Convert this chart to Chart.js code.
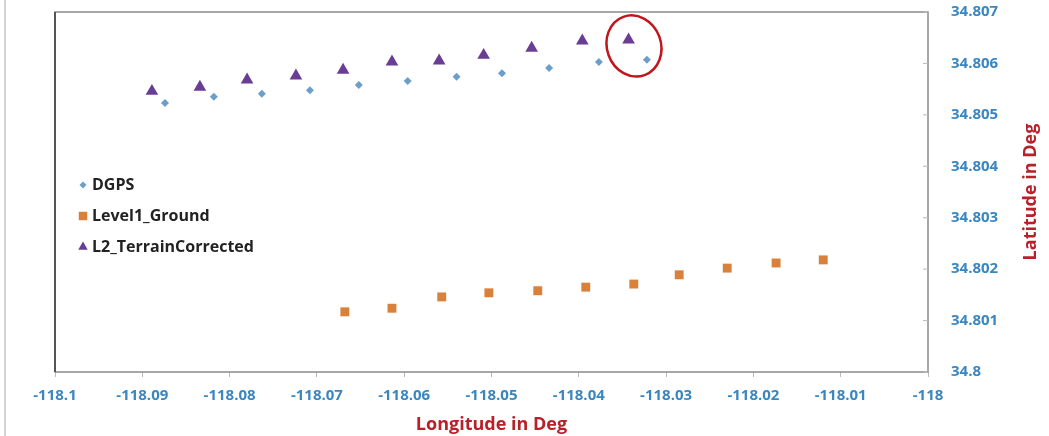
<!DOCTYPE html>
<html>
<head>
<meta charset="utf-8">
<script src="https://cdn.jsdelivr.net/npm/chart.js@4/dist/chart.umd.min.js"></script>
<style>
html, body { margin: 0; padding: 0; background: #fff; }
#wrap { width: 1049px; height: 436px; }
</style>
</head>
<body>
<div id="wrap"><canvas id="geoChart" width="1049" height="436"></canvas></div>
<script>
// values
const dgpsLon = [-118.0874, -118.0818, -118.0763, -118.0708, -118.0652, -118.0596, -118.0540, -118.0488, -118.0434, -118.0377, -118.0322];
const dgpsLat = [34.80523, 34.80535, 34.80541, 34.80548, 34.80558, 34.80566, 34.80574, 34.80581, 34.80591, 34.80603, 34.80607];

const groundLon = [-118.0668, -118.0614, -118.0557, -118.0503, -118.0447, -118.0392, -118.0337, -118.0285, -118.0230, -118.0174, -118.0120];
const groundLat = [34.80117, 34.80124, 34.80146, 34.80154, 34.80158, 34.80165, 34.80171, 34.80189, 34.80202, 34.80212, 34.80218];

const terrainLon = [-118.0889, -118.0834, -118.0780, -118.0724, -118.0670, -118.0614, -118.0560, -118.0509, -118.0454, -118.0396, -118.0343];
const terrainLat = [34.80546, 34.80554, 34.80568, 34.80576, 34.80587, 34.80603, 34.80605, 34.80616, 34.80630, 34.80644, 34.80646];

const xTicks = [-118.1, -118.09, -118.08, -118.07, -118.06, -118.05, -118.04, -118.03, -118.02, -118.01, -118];
const xTickLabels = ['-118.1', '-118.09', '-118.08', '-118.07', '-118.06', '-118.05', '-118.04', '-118.03', '-118.02', '-118.01', '-118'];
const yTicks = [34.8, 34.801, 34.802, 34.803, 34.804, 34.805, 34.806, 34.807];
const yTickLabels = ['34.8', '34.801', '34.802', '34.803', '34.804', '34.805', '34.806', '34.807'];

// the red ring around the last L2 / DGPS pair
const ringLon = -118.03368;
const ringLat = 34.80634;

const tickColor = '#3a87c0';
const titleColor = '#b8202a';
const fontFam = '"Open Sans", "Liberation Sans", sans-serif';

function toPoints(xs, ys) {
    return xs.map((x, i) => ({x: x, y: ys[i]}));
}

// plot frame, y tick marks, outer picture edge
const framePlugin = {
    id: 'frame',
    beforeDraw(chart) {
        const ctx = chart.ctx;
        ctx.save();
        ctx.fillStyle = '#fff';
        ctx.fillRect(0, 0, chart.width, chart.height);
        ctx.strokeStyle = '#d4d4d4';
        ctx.lineWidth = 2;
        ctx.beginPath();
        ctx.moveTo(5, 0);
        ctx.lineTo(5, chart.height);
        ctx.stroke();
        ctx.restore();
    },
    afterDatasetsDraw(chart) {
        const ctx = chart.ctx;
        const a = chart.chartArea;
        ctx.save();
        ctx.strokeStyle = '#8a8a8a';
        ctx.lineWidth = 1.5;
        ctx.strokeRect(a.left, a.top, a.right - a.left, a.bottom - a.top);
        ctx.strokeStyle = '#555';
        ctx.lineWidth = 2;
        ctx.beginPath();
        ctx.moveTo(a.left, a.top);
        ctx.lineTo(a.left, a.bottom);
        ctx.stroke();
        // y ticks point inward
        const ys = chart.scales.y;
        ctx.strokeStyle = '#bbb';
        ctx.lineWidth = 1;
        yTicks.forEach(v => {
            const py = ys.getPixelForValue(v);
            ctx.beginPath();
            ctx.moveTo(a.right - 5, py);
            ctx.lineTo(a.right, py);
            ctx.stroke();
        });

        // red ring
        const cx = chart.scales.x.getPixelForValue(ringLon);
        const cy = ys.getPixelForValue(ringLat);
        ctx.strokeStyle = '#c0161d';
        ctx.lineWidth = 2.5;
        ctx.beginPath();
        ctx.ellipse(cx, cy, 27, 31, -0.35, 0, Math.PI * 2);
        ctx.stroke();

        // legend inside the plot
        ctx.font = 'bold 16px ' + fontFam;
        ctx.textBaseline = 'middle';
        ctx.textAlign = 'left';
        const rowY = [185, 216, 247];
        chart.data.datasets.forEach((ds, i) => {
            const y = rowY[i];
            ctx.fillStyle = ds.backgroundColor;
            Chart.helpers.drawPoint(ctx, {pointStyle: ds.pointStyle, radius: ds.legendRadius, borderWidth: 0}, 83, y);
            ctx.fillStyle = '#222';
            ctx.fillText(ds.label, 92, y);
        });

        // right axis title, reads bottom to top
        ctx.font = 'bold 18px ' + fontFam;
        ctx.fillStyle = titleColor;
        ctx.textAlign = 'center';
        ctx.translate(1031, (a.top + a.bottom) / 2);
        ctx.rotate(-Math.PI / 2);
        ctx.fillText('Latitude in Deg', 0, 0);
        ctx.restore();
    }
};

const ctx = document.getElementById('geoChart');
new Chart(ctx, {
    type: 'scatter',
    data: {
        datasets: [{
            label: 'DGPS',
            data: toPoints(dgpsLon, dgpsLat),
            pointStyle: 'rectRot',
            pointRadius: 4,
            legendRadius: 3.5,
            backgroundColor: '#6d9ec9',
            borderWidth: 0
        }, {
            label: 'Level1_Ground',
            data: toPoints(groundLon, groundLat),
            pointStyle: 'rect',
            pointRadius: 6.3,
            legendRadius: 6,
            backgroundColor: '#d9803a',
            borderWidth: 0
        }, {
            label: 'L2_TerrainCorrected',
            data: toPoints(terrainLon, terrainLat),
            pointStyle: 'triangle',
            pointRadius: 7.3,
            legendRadius: 5.5,
            backgroundColor: '#6a3d94',
            borderWidth: 0
        }]
    },
    options: {
        responsive: false,
        animation: false,
        layout: {
            padding: {left: 55, top: 12, right: 0, bottom: 0}
        },
        scales: {
            x: {
                type: 'linear',
                min: -118.1,
                max: -118,
                afterBuildTicks: scale => {
                    scale.ticks = xTicks.map(v => ({value: v}));
                },
                afterFit: scale => {
                    scale.height = 64;
                    scale.paddingLeft = 0;
                    scale.paddingRight = 0;
                },
                grid: {display: true, drawOnChartArea: false, tickLength: 5, color: '#bbb'},
                border: {display: false},
                ticks: {
                    color: tickColor,
                    font: {family: fontFam, size: 15, weight: 'bold'},
                    padding: 10,
                    maxRotation: 0,
                    callback: (v, i) => xTickLabels[i]
                },
                title: {
                    display: true,
                    text: 'Longitude in Deg',
                    color: titleColor,
                    font: {family: fontFam, size: 18, weight: 'bold'},
                    padding: {top: 0, bottom: 0}
                }
            },
            y: {
                type: 'linear',
                position: 'right',
                min: 34.8,
                max: 34.807,
                afterBuildTicks: scale => {
                    scale.ticks = yTicks.map(v => ({value: v}));
                },
                afterFit: scale => {
                    scale.width = 121;
                    scale.paddingTop = 0;
                    scale.paddingBottom = 0;
                },
                grid: {display: false},
                border: {display: false},
                ticks: {
                    color: tickColor,
                    font: {family: fontFam, size: 15, weight: 'bold'},
                    padding: 15,
                    callback: (v, i) => yTickLabels[i]
                }
            }
        },
        plugins: {
            legend: {display: false},
            tooltip: {enabled: false}
        }
    },
    plugins: [framePlugin]
});
</script>
</body>
</html>
